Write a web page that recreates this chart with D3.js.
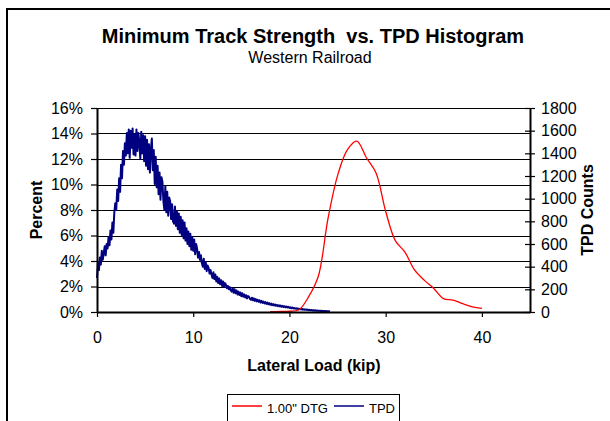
<!DOCTYPE html>
<html>
<head>
<meta charset="utf-8">
<script src="https://cdn.jsdelivr.net/npm/d3@7"></script>
<style>
  body { margin: 0; background: #fff; }
  svg { display: block; font-family: "Liberation Sans", Arial, sans-serif; }
</style>
</head>
<body>
<div id="chart"></div>
<script>
// DTG curve (percent, left axis)
const dtgLoad = [18, 19, 20, 21, 22, 23, 24, 25, 26, 27, 28, 29, 30, 31, 32, 33, 34, 35, 36, 37, 38, 39, 40];
const dtgPercent = [0.02, 0.04, 0.06, 0.18, 1.2, 2.8, 7.3, 10.7, 12.7, 13.4, 12.1, 10.9, 7.9, 5.6, 4.7, 3.3, 2.5, 1.85, 1.05, 0.94, 0.65, 0.4, 0.28];

// TPD histogram (counts, right axis), bins of 0.1 kip starting at 0
const tpdBinStart = 0;
const tpdBinWidth = 0.1;
const tpdCounts = [
  300, 430, 370, 480, 420, 540, 460, 520, 580, 500,
  600, 560, 660, 590, 720, 640, 790, 700, 880, 960,
  900, 1080, 980, 1180, 1060, 1300, 1180, 1420, 1300, 1490,
  1380, 1580, 1400, 1610, 1360, 1600, 1450, 1620, 1390, 1570,
  1380, 1610, 1420, 1580, 1500, 1350, 1590, 1400, 1560, 1330,
  1550, 1290, 1520, 1260, 1480, 1230, 1440, 1530, 1250, 1430,
  1130, 1370, 1100, 1290, 1040, 1230, 990, 1190, 1150, 980,
  900, 1110, 880, 1060, 850, 1010, 980, 820, 950, 800,
  780, 930, 760, 890, 730, 870, 700, 840, 680, 810,
  650, 790, 630, 740, 600, 710, 580, 690, 550, 660,
  540, 640, 510, 600, 560, 480, 530, 460, 500, 430,
  400, 470, 380, 440, 360, 410, 390, 340, 370, 330,
  300, 350, 290, 330, 270, 310, 255, 295, 245, 280,
  230, 270, 220, 255, 240, 210, 230, 200, 220, 190,
  180, 210, 170, 200, 165, 190, 155, 180, 150, 172,
  140, 165, 135, 155, 128, 148, 120, 140, 134, 115,
  108, 126, 104, 120, 98, 114, 94, 108, 90, 103,
  84, 98, 80, 92, 76, 88, 72, 83, 68, 78,
  64, 74, 61, 70, 58, 66, 55, 63, 52, 60,
  49, 57, 46, 54, 44, 51, 41, 48, 39, 45,
  36, 42, 33, 39, 31, 36, 29, 34, 27, 31,
  25, 29, 23, 27, 21, 25, 19, 23, 18, 21,
  16, 19, 15, 18, 13, 16, 12, 15, 11, 13,
  10, 12, 9, 11, 8, 10, 7, 9, 6, 8,
  5, 7, 4
];

const xTicks = [0, 10, 20, 30, 40];
const percentTicks = [0, 0.02, 0.04, 0.06, 0.08, 0.10, 0.12, 0.14, 0.16];
const countTicks = [0, 200, 400, 600, 800, 1000, 1200, 1400, 1600, 1800];

// Layout
const W = 610, H = 421;
const margin = {top: 108, left: 97};
const width = 433;
const height = 204;

const svg = d3.select("#chart")
    .append("svg")
    .attr("width", W)
    .attr("height", H);

svg.append("rect")
    .attr("width", W).attr("height", H)
    .attr("fill", "#fff");

// Outer chart frame (runs off the right and bottom edges)
svg.append("rect")
    .attr("x", 7).attr("y", 9)
    .attr("width", 700).attr("height", 500)
    .attr("fill", "none")
    .attr("stroke", "#000")
    .attr("stroke-width", 2);

// Titles
svg.append("text")
    .attr("x", 313).attr("y", 43)
    .attr("text-anchor", "middle")
    .attr("font-size", "20px").attr("font-weight", "bold")
    .style("white-space", "pre")
    .text("Minimum Track Strength  vs. TPD Histogram");

svg.append("text")
    .attr("x", 310).attr("y", 63)
    .attr("text-anchor", "middle")
    .attr("font-size", "16px")
    .text("Western Railroad");

const g = svg.append("g")
    .attr("transform", `translate(${margin.left},${margin.top})`);

// Scales
const x = d3.scaleLinear().domain([0, 45]).range([0, width]);
const yPct = d3.scaleLinear().domain([0, 0.16]).range([height, 0]);
const yCnt = d3.scaleLinear().domain([0, 1800]).range([height, 0]);

// Gridlines from the percent axis
g.selectAll(".grid")
    .data(percentTicks.slice(1))
    .join("line")
    .attr("class", "grid")
    .attr("x1", 0).attr("x2", width)
    .attr("y1", d => Math.round(yPct(d)) + 0.5)
    .attr("y2", d => Math.round(yPct(d)) + 0.5)
    .attr("stroke", "#000")
    .attr("stroke-width", 1);

// Series
const tpdLine = d3.line()
    .x((d, i) => x(tpdBinStart + i * tpdBinWidth))
    .y(d => yCnt(d));

g.append("path")
    .datum(tpdCounts)
    .attr("fill", "none")
    .attr("stroke", "#000080")
    .attr("stroke-width", 2)
    .attr("stroke-linejoin", "round")
    .attr("d", tpdLine);

const dtgLine = d3.line()
    .x(d => x(d[0]))
    .y(d => yPct(d[1] / 100))
    .curve(d3.curveCatmullRom);

g.append("path")
    .datum(dtgLoad.map((v, i) => [v, dtgPercent[i]]))
    .attr("fill", "none")
    .attr("stroke", "#ff0000")
    .attr("stroke-width", 1.3)
    .attr("d", dtgLine);

// Axes
const styleAxis = sel => {
    sel.select(".domain").attr("stroke", "#000").attr("stroke-width", 2);
    sel.selectAll(".tick line").attr("stroke", "#000").attr("stroke-width", 1.2);
    sel.selectAll(".tick text")
        .attr("fill", "#000")
        .attr("font-size", "16px")
        .attr("font-family", "\"Liberation Sans\", Arial, sans-serif");
};

g.append("g")
    .call(d3.axisLeft(yPct)
        .tickValues(percentTicks)
        .tickFormat(d3.format(".0%"))
        .tickSize(6).tickSizeOuter(0).tickPadding(8))
    .call(styleAxis);

g.append("g")
    .attr("transform", `translate(${width},0)`)
    .call(d3.axisRight(yCnt)
        .tickValues(countTicks)
        .tickFormat(d3.format("d"))
        .tickSize(5).tickSizeOuter(0).tickPadding(6))
    .call(styleAxis)
    .call(a => a.selectAll(".tick line").attr("x1", -5));

g.append("g")
    .attr("transform", `translate(0,${height})`)
    .call(d3.axisBottom(x)
        .tickValues(xTicks)
        .tickSize(5).tickSizeOuter(0).tickPadding(15))
    .call(styleAxis);

// Axis titles
svg.append("text")
    .attr("transform", "translate(41.5,210) rotate(-90)")
    .attr("text-anchor", "middle")
    .attr("font-size", "16px").attr("font-weight", "bold")
    .text("Percent");

svg.append("text")
    .attr("transform", "translate(593,210) rotate(-90)")
    .attr("text-anchor", "middle")
    .attr("font-size", "16px").attr("font-weight", "bold")
    .text("TPD Counts");

svg.append("text")
    .attr("x", 314).attr("y", 371)
    .attr("text-anchor", "middle")
    .attr("font-size", "16px").attr("font-weight", "bold")
    .text("Lateral Load (kip)");

// Legend
const legend = svg.append("g");
legend.append("rect")
    .attr("x", 227.5).attr("y", 394.5)
    .attr("width", 172).attr("height", 40)
    .attr("fill", "#fff")
    .attr("stroke", "#000")
    .attr("stroke-width", 1);

const legendItems = [
    {name: "1.00\" DTG", color: "#ff0000", x: 232},
    {name: "TPD", color: "#000080", x: 334}
];
legendItems.forEach(d => {
    legend.append("line")
        .attr("x1", d.x).attr("x2", d.x + 30)
        .attr("y1", 406).attr("y2", 406)
        .attr("stroke", d.color)
        .attr("stroke-width", 1.5);
    legend.append("text")
        .attr("x", d.x + 35).attr("y", 413)
        .attr("font-size", "13px")
        .text(d.name);
});
</script>
</body>
</html>
